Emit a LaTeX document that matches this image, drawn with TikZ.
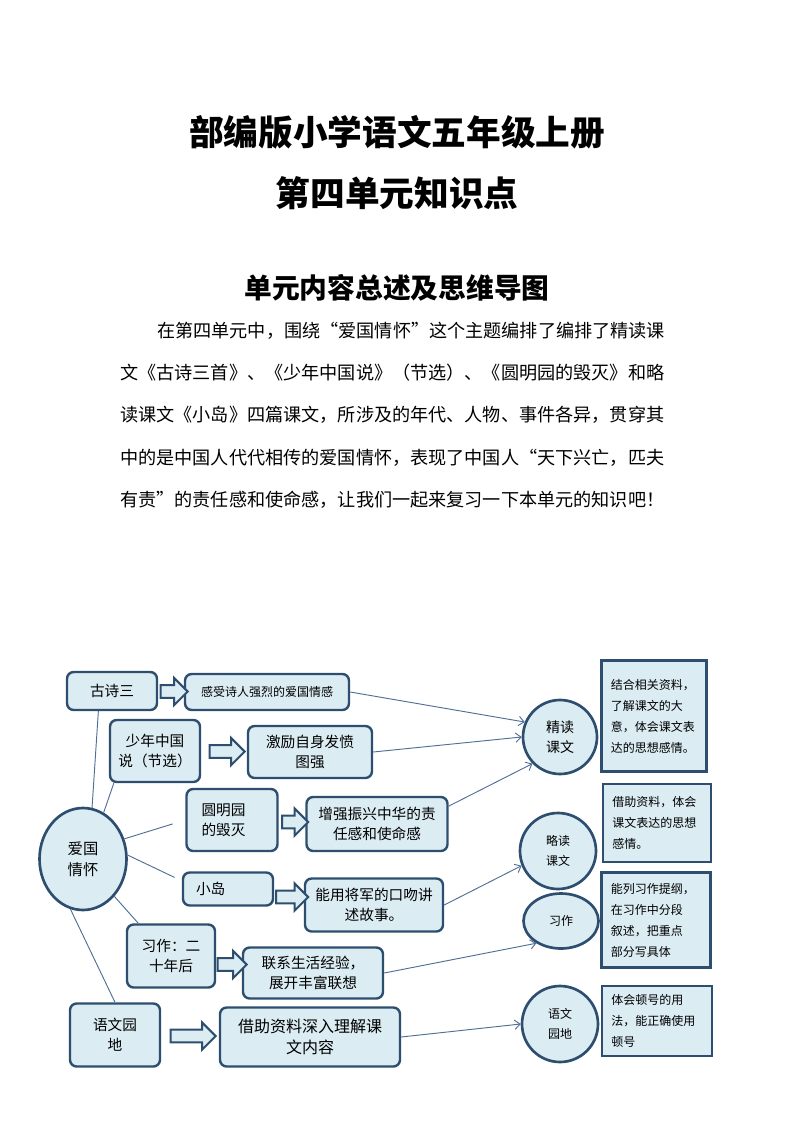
\documentclass[tikz,border=0pt]{standalone}
\usepackage{fontspec}
\setmainfont{Noto Sans CJK SC}
\usetikzlibrary{calc, shapes.geometric, shapes.arrows, arrows.meta}
\definecolor{boxfill}{RGB}{219,236,243}
\definecolor{boxline}{RGB}{45,78,110}
\definecolor{linkline}{RGB}{80,110,150}
\tikzset{
  topic/.style={rectangle, draw=boxline, fill=boxfill, line width=1.8pt, rounded corners=5pt, align=center, inner sep=0pt, font=\fontsize{11}{15}\selectfont},
  hub/.style={ellipse, draw=boxline, fill=boxfill, line width=2pt, inner sep=0pt, align=center, font=\fontsize{11.5}{16}\selectfont},
  kind/.style={circle, draw=boxline, fill=boxfill, line width=2pt, inner sep=0pt, align=center, font=\fontsize{9}{15.5}\selectfont},
  note/.style={rectangle, draw=boxline, fill=boxfill, line width=2pt, align=left, inner xsep=7pt, inner ysep=0pt, font=\fontsize{9}{15.75}\selectfont},
  blockarr/.style={single arrow, draw=boxline, fill=boxfill, line width=1.5pt, inner sep=4pt, single arrow head extend=5.5pt},
  link/.style={draw=linkline, line width=0.7pt},
  linkarr/.style={link, -{Straight Barb[length=4pt,width=7pt]}},
  paraline/.style={anchor=west, inner sep=0pt, font=\fontsize{13.6}{16}\selectfont}
}

\begin{document}
\begin{tikzpicture}[x=0.75pt, y=-0.75pt]
  \path[use as bounding box] (0,0) rectangle (794,1123);

  % Titles
  \node[font=\fontsize{26}{30}\selectfont\bfseries] (title1) at (397,132) {部编版小学语文五年级上册};
  \node[font=\fontsize{26}{30}\selectfont\bfseries] (title2) at (397,193) {第四单元知识点};
  \node[font=\fontsize{20.8}{24}\selectfont\bfseries] (heading) at (397,288) {单元内容总述及思维导图};

  % Summary text
  \node[paraline] (para1) at (157,331) {在第四单元中，围绕“爱国情怀”这个主题编排了编排了精读课};
  \node[paraline] (para2) at (120,373) {文《古诗三首》、《少年中国说》（节选）、《圆明园的毁灭》和略};
  \node[paraline] (para3) at (120,415) {读课文《小岛》四篇课文，所涉及的年代、人物、事件各异，贯穿其};
  \node[paraline] (para4) at (120,458) {中的是中国人代代相传的爱国情怀，表现了中国人“天下兴亡，匹夫};
  \node[paraline] (para5) at (120,500) {有责”的责任感和使命感，让我们一起来复习一下本单元的知识吧！};

  % Nodes
  \node[hub, minimum width=65.25pt, minimum height=76.5pt] (hub) at (83,859) {爱国\\情怀};

  \node[topic, minimum width=67.5pt, minimum height=28.5pt] (gushi) at (112,691) {古诗三};
  \node[topic, minimum width=67.5pt, minimum height=46.5pt] (shaonian) at (155,751) {少年中国\\说（节选）};
  \node[topic, minimum height=46.5pt, align=left, text width=45.75pt, inner xsep=11.25pt] (yuanming) at (232,820) {圆明园\\的毁灭};
  \node[topic, minimum height=24.75pt, align=left, text width=48pt, inner xsep=9.75pt] (xiaodao) at (228,889) {小岛};
  \node[topic, minimum width=66pt, minimum height=47.25pt] (xizuo) at (171,956) {习作：二\\十年后};
  \node[topic, minimum width=67.5pt, minimum height=47.25pt] (yuwen) at (115,1035) {语文园\\地};

  \node[topic, minimum width=123pt, minimum height=27pt, font=\fontsize{9}{12}\selectfont] (gushiR) at (267,692) {感受诗人强烈的爱国情感};
  \node[topic, minimum width=93pt, minimum height=39pt] (shaonianR) at (310,752) {激励自身发愤\\图强};
  \node[topic, minimum width=105.75pt, minimum height=40.5pt] (yuanmingR) at (377,824) {增强振兴中华的责\\任感和使命感};
  \node[topic, minimum width=103.5pt, minimum height=39.75pt] (xiaodaoR) at (374,905) {能用将军的口吻讲\\述故事。};
  \node[topic, minimum width=105pt, minimum height=38.25pt] (xizuoR) at (313,973) {联系生活经验，\\展开丰富联想};
  \node[topic, minimum width=135pt, minimum height=44.25pt, font=\fontsize{12}{16}\selectfont] (yuwenR) at (310,1037) {借助资料深入理解课\\文内容};

  \node[kind, minimum size=55.5pt, font=\fontsize{10.5}{15.5}\selectfont] (jingdu) at (560,737) {精读\\课文};
  \node[kind, minimum size=57pt] (luedu) at (558,851) {略读\\课文};
  \node[kind, ellipse, minimum width=56.25pt, minimum height=41.25pt] (xizuoC) at (561,921) {习作};
  \node[kind, minimum size=57pt] (yuwenC) at (560,1024) {语文\\园地};

  \node[note, text width=64.75pt, minimum height=83.25pt] (note1) at (654,716) {结合相关资料，\\了解课文的大\\意，体会课文表\\达的思想感情。};
  \node[note, text width=67pt, minimum height=58.5pt] (note2) at (657,823) {借助资料，体会\\课文表达的思想\\感情。};
  \node[note, text width=67.75pt, minimum height=71.25pt] (note3) at (656,920) {能列习作提纲，\\在习作中分段\\叙述，把重点\\部分写具体};
  \node[note, text width=68.5pt, minimum height=52.5pt] (note4) at (657,1021) {体会顿号的用\\法，能正确使用\\顿号};

  % Block arrows
  \node[blockarr, minimum height=20.25pt] (arr1) at ($(gushi.east)!0.5!(gushiR.west)$) {};
  \node[blockarr, minimum height=26.25pt] (arr2) at ($(shaonian.east)!0.5!(shaonianR.west)$) {};
  \node[blockarr, minimum height=19.5pt] (arr3) at ($(yuanming.east)!0.5!(yuanmingR.west)$) {};
  \node[blockarr, minimum height=24pt] (arr4) at ($(xiaodao.east)!0.5!(xiaodaoR.west)$) {};
  \node[blockarr, minimum height=21.75pt] (arr5) at ($(xizuo.east)!0.5!(xizuoR.west)$) {};
  \node[blockarr, minimum height=33.75pt] (arr6) at ($(yuwen.east)!0.5!(yuwenR.west)$) {};

  % Lines
  \draw[link] (hub.80) -- (gushi.236);
  \draw[link] (hub.66) -- (shaonian.218);
  \draw[link, shorten >=10pt] (hub.26) -- (yuanming.west);
  \draw[link, shorten >=6pt] (hub.5) -- (xiaodao.170);
  \draw[link] (hub.-50) -- (xizuo.135);
  \draw[link] (hub.-104) -- (yuwen.north);

  % Arrows
  \draw[linkarr] (gushiR.east) -- (jingdu.157);
  \draw[linkarr] (shaonianR.east) -- (jingdu.west);
  \draw[linkarr] (yuanmingR.14) -- (jingdu.224);
  \draw[linkarr] (xiaodaoR.east) -- (luedu.202);
  \draw[linkarr] (xizuoR.east) -- (xizuoC.222);
  \draw[linkarr] (yuwenR.east) -- (yuwenC.west);
\end{tikzpicture}
\end{document}
